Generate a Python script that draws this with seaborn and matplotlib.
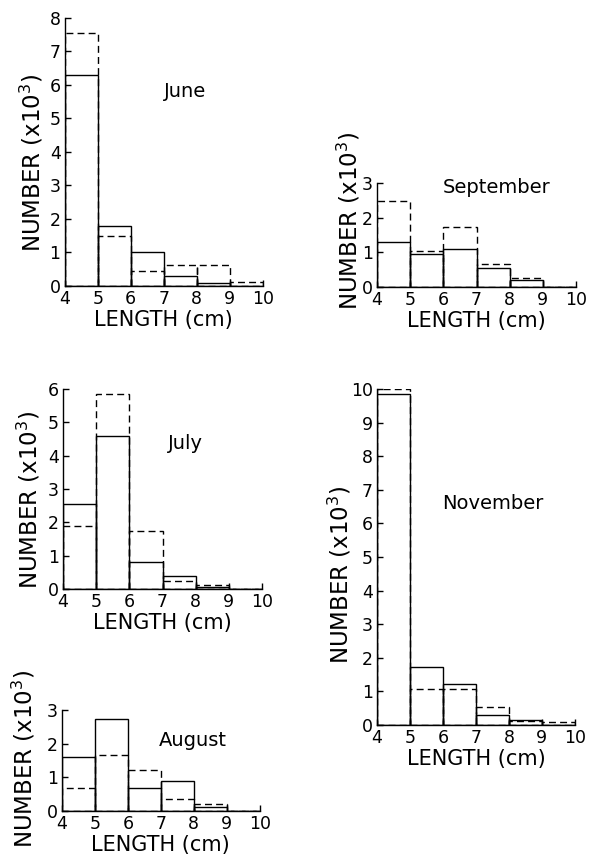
import numpy as np
import pandas as pd
import matplotlib
matplotlib.use("Agg")
import matplotlib.pyplot as plt
import seaborn as sns

# length classes (cm) - bin edges and centres
edges = [4, 5, 6, 7, 8, 9, 10]
centres = [4.5, 5.5, 6.5, 7.5, 8.5, 9.5]

# numbers (x10^3), solid and dashed histograms
june_solid = [6.3, 1.78, 1.0, 0.3, 0.1, 0.0]
june_dashed = [7.55, 1.5, 0.45, 0.63, 0.63, 0.12]
sept_solid = [1.29, 0.94, 1.11, 0.56, 0.19, 0.0]
sept_dashed = [2.47, 1.05, 1.72, 0.66, 0.26, 0.0]
july_solid = [2.56, 4.58, 0.8, 0.38, 0.05, 0.0]
july_dashed = [1.9, 5.86, 1.73, 0.23, 0.13, 0.0]
aug_solid = [1.59, 2.72, 0.67, 0.89, 0.11, 0.0]
aug_dashed = [0.68, 1.66, 1.22, 0.35, 0.21, 0.0]
nov_solid = [9.85, 1.73, 1.22, 0.3, 0.15, 0.0]
nov_dashed = [10.0, 1.06, 1.06, 0.53, 0.12, 0.08]

sns.set_style("ticks")
plt.rcParams['font.family'] = ['DejaVu Sans']
plt.rcParams['text.color'] = 'black'
plt.rcParams['axes.labelcolor'] = 'black'

fig = plt.figure(figsize=(5.89, 8.58), dpi=100)

# panel: month, solid, dashed, ymax, axes rect, title pos, ylabel pos
panels = [
    ("June", june_solid, june_dashed, 8, [0.110, 0.6667, 0.336, 0.3124], (0.606, 0.724), (-0.10, 0.46)),
    ("September", sept_solid, sept_dashed, 3, [0.640, 0.6655, 0.338, 0.1212], (0.603, 0.96), (-0.075, 0.635)),
    ("July", july_solid, july_dashed, 6, [0.107, 0.3135, 0.338, 0.2331], (0.613, 0.73), (-0.105, 0.445)),
    ("August", aug_solid, aug_dashed, 3, [0.105, 0.0548, 0.336, 0.1177], (0.66, 0.70), (-0.126, 0.515)),
    ("November", nov_solid, nov_dashed, 10, [0.640, 0.155, 0.336, 0.3916], (0.586, 0.66), (-0.12, 0.446)),
]

for name, solid, dashed, ymax, rect, tpos, lpos in panels:
    ax = fig.add_axes(rect)
    df = pd.DataFrame({'length': centres, 'solid': solid, 'dashed': dashed})
    sns.histplot(data=df, x='length', weights='solid', bins=edges, fill=False,
                 color='black', linewidth=1.0, ax=ax)
    sns.histplot(data=df, x='length', weights='dashed', bins=edges, fill=False,
                 color='black', linewidth=1.0, linestyle=(0, (5, 3)), ax=ax)
    ax.set_xlim(4, 10)
    ax.set_ylim(0, ymax)
    ax.set_xticks(range(4, 11))
    ax.set_yticks(range(0, ymax + 1))
    ax.tick_params(direction='in', length=4, width=1, labelsize=12.5, colors='black', pad=3)
    for s in ['top', 'right']:
        ax.spines[s].set_visible(False)
    for s in ['left', 'bottom']:
        ax.spines[s].set_linewidth(1.0)
        ax.spines[s].set_color('black')
    ax.set_xlabel('LENGTH (cm)', fontsize=15, labelpad=1)
    ax.set_ylabel('NUMBER (x10$^3$)', fontsize=16.5)
    ax.yaxis.set_label_coords(lpos[0], lpos[1])
    ax.text(tpos[0], tpos[1], name, transform=ax.transAxes, fontsize=14,
            ha='center', va='center')
    ax.patch.set_alpha(0)

fig.savefig("out.png", dpi=100)
